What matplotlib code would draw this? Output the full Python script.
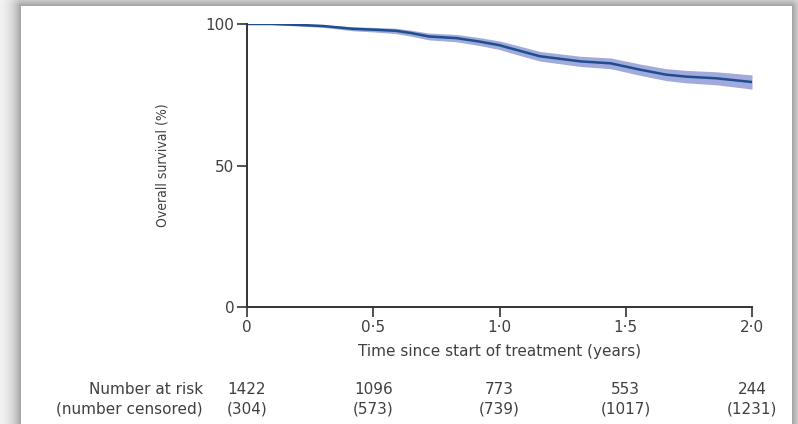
import numpy as np
import matplotlib
matplotlib.use("Agg")
from matplotlib import pyplot as plt

# Kaplan-Meier estimate
years = [0, 0.1, 0.2, 0.3, 0.42, 0.5, 0.59, 0.65, 0.72, 0.83, 0.92, 1.0, 1.04,
         1.16, 1.32, 1.44, 1.56, 1.66, 1.74, 1.86, 2.0]
survival = [100, 100, 99.7, 99.3, 98.3, 98.0, 97.6, 96.8, 95.6, 95.0, 93.8, 92.5,
            91.5, 88.6, 86.8, 86.1, 83.8, 82.1, 81.4, 80.8, 79.5]
ci_lower = [100, 99.8, 99.3, 98.8, 97.6, 97.2, 96.6, 95.7, 94.4, 93.7, 92.4, 91.0,
            89.9, 86.9, 85.0, 84.2, 81.8, 80.0, 79.2, 78.5, 77.0]
ci_upper = [100, 100, 100, 99.7, 99.0, 98.8, 98.5, 97.8, 96.8, 96.3, 95.2, 94.0,
            93.1, 90.3, 88.6, 88.0, 85.8, 84.2, 83.6, 83.1, 82.0]

risk_times = [0, 0.5, 1.0, 1.5, 2.0]
at_risk = [1422, 1096, 773, 553, 244]
censored = [304, 573, 739, 1017, 1231]
xtick_labels = ["0", "0\u00b75", "1\u00b70", "1\u00b75", "2\u00b70"]

plt.rcParams['font.family'] = ['DejaVu Sans']
txt = '#404040'

fig = plt.figure(figsize=(7.98, 4.24), dpi=100)

# grey drop shadow round the white card
h, w = 424, 798
yy, xx = np.mgrid[0:h, 0:w]
x0, x1, y0 = 21, 791, 6
dx = np.maximum(np.maximum(x0 - xx, xx - x1), 0)
dy = np.maximum(y0 - yy, 0)
d = np.sqrt(dx ** 2 + dy ** 2)
shade = np.where(d > 0, 255 - 100 * np.exp(-d / 10.0), 255) / 255.0
bg = fig.add_axes([0, 0, 1, 1], zorder=-1)
bg.imshow(shade, cmap='gray', vmin=0, vmax=1, aspect='auto', interpolation='bilinear')
bg.axis('off')

ax = fig.add_axes([247 / 798, 1 - 307 / 424, (752 - 247) / 798, (307 - 24) / 424])
ax.patch.set_alpha(0)
ax.fill_between(years, ci_lower, ci_upper, color='#8f9bd6', alpha=0.85, lw=0)
ax.plot(years, survival, color='#1f4e8c', lw=1.8)

ax.set_xlim(0, 2.0)
ax.set_ylim(0, 100)
ax.set_xticks(risk_times)
ax.set_xticklabels(xtick_labels)
ax.set_yticks([0, 50, 100])
for s in ['top', 'right']:
    ax.spines[s].set_visible(False)
for s in ['left', 'bottom']:
    ax.spines[s].set_color('#333333')
    ax.spines[s].set_linewidth(1.4)
ax.tick_params(colors='#333333', labelcolor=txt, length=7, width=1.2, labelsize=11, pad=2)
ax.set_xlabel('Time since start of treatment (years)', fontsize=11, color=txt, labelpad=7)
ax.set_ylabel('Overall survival (%)', fontsize=10, color=txt, labelpad=26,
              fontstretch='condensed')

# number-at-risk table
for t, n, c in zip(risk_times, at_risk, censored):
    ax.text(t, -29.0, str(n), ha='center', va='center', fontsize=11, color=txt, clip_on=False)
    ax.text(t, -36.2, '({})'.format(c), ha='center', va='center', fontsize=11, color=txt,
            clip_on=False)
ax.text(-0.175, -29.0, 'Number at risk', ha='right', va='center', fontsize=11, color=txt)
ax.text(-0.175, -36.2, '(number censored)', ha='right', va='center', fontsize=11, color=txt)

plt.savefig('out.png', dpi=100)
